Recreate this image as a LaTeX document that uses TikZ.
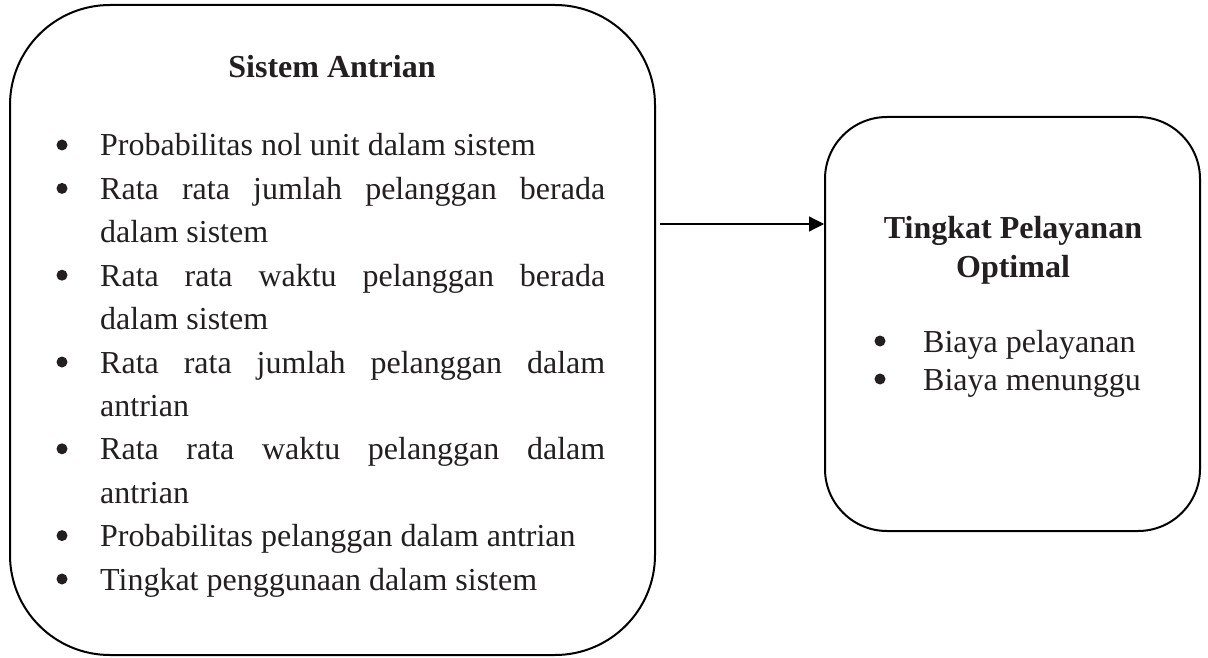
\documentclass[tikz,border=0pt]{standalone}
\usepackage{fontspec}
\setmainfont{Liberation Serif}
\usetikzlibrary{arrows.meta}
\definecolor{ink}{RGB}{35,31,32}
\begin{document}
\begin{tikzpicture}[x=1pt,y=-1pt,
  box/.style={draw=black, line width=2pt, rounded corners=#1, inner sep=0pt},
  txt/.style={anchor=base west, inner sep=0pt, text=ink, font=\fontsize{32}{38}\selectfont},
  ttl/.style={anchor=base, inner sep=0pt, text=ink, font=\fontsize{32}{38}\selectfont\bfseries},
  bul/.style={fill=ink},
  conn/.style={line width=1.2pt, -{Triangle[length=15pt,width=15pt]}}]
\useasboundingbox (0,0) rectangle (1208,658);
% boxes
\node[box=100pt, minimum width=645pt, minimum height=650pt] (sys) at (332.5,330) {};
\node[box=62pt, minimum width=375pt, minimum height=414pt] (opt) at (1012.5,324) {};
% connector
\coordinate (ay) at (0,224);
\draw[conn] ([xshift=4pt]sys.east |- ay) -- (opt.west |- ay);
% left box text
\node[ttl] (t1) at (332,78) {Sistem Antrian};
\node[txt] (l1) at (100,156) {Probabilitas nol unit dalam sistem};
\node[txt] (l2) at (100,199.4) {\makebox[505pt][s]{Rata rata jumlah pelanggan berada}};
\node[txt] (l3) at (100,242.8) {dalam sistem};
\node[txt] (l4) at (100,286.2) {\makebox[505pt][s]{Rata rata waktu pelanggan berada}};
\node[txt] (l5) at (100,329.6) {dalam sistem};
\node[txt] (l6) at (100,373) {\makebox[505pt][s]{Rata rata jumlah pelanggan dalam}};
\node[txt] (l7) at (100,416.4) {antrian};
\node[txt] (l8) at (100,459.8) {\makebox[505pt][s]{Rata rata waktu pelanggan dalam}};
\node[txt] (l9) at (100,503.2) {antrian};
\node[txt] (l10) at (100,546.6) {Probabilitas pelanggan dalam antrian};
\node[txt] (l11) at (100,590) {Tingkat penggunaan dalam sistem};
\foreach \y in {156,199.4,286.2,373,459.8,546.6,590}
  \fill[bul] (62,\y-11) circle (5.5pt);
% right box text
\node[ttl] (t2) at (1013,238) {Tingkat Pelayanan};
\node[ttl] (t3) at (1013,277) {Optimal};
\node[txt] (r1) at (923,352) {Biaya pelayanan};
\node[txt] (r2) at (923,390) {Biaya menunggu};
\foreach \y in {352,390}
  \fill[bul] (880,\y-11) circle (5.5pt);
\end{tikzpicture}
\end{document}
